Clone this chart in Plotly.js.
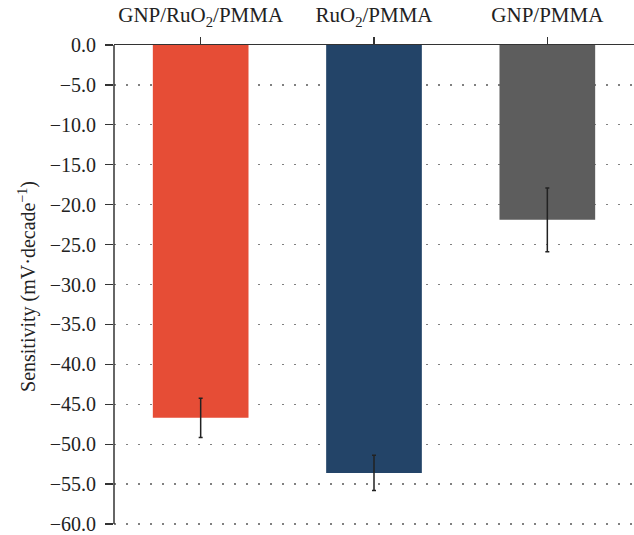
<!DOCTYPE html>
<html>
<head>
<meta charset="utf-8">
<script src="https://cdn.plot.ly/plotly-3.0.1.min.js"></script>
<style>html,body{margin:0;padding:0;background:#fff;}#chart{width:634px;height:535px;}</style>
</head>
<body>
<div id="chart"></div>
<script>
const categories = ["GNP/RuO<sub>2</sub>/PMMA", "RuO<sub>2</sub>/PMMA", "GNP/PMMA"];
const sensitivity = [-46.7, -53.6, -21.9];
const errors = [2.45, 2.2, 4.0];
const barColors = ["#E64D36", "#234468", "#5D5D5D"];
const yTickVals = [0, -5, -10, -15, -20, -25, -30, -35, -40, -45, -50, -55, -60];

const FONT = "Liberation Serif, Times New Roman, serif";

const trace = {
  type: "bar",
  x: categories,
  y: sensitivity,
  marker: {color: barColors, line: {width: 0}},
  error_y: {type: "data", array: errors, visible: true, color: "#222222", thickness: 1.5, width: 2},
  hoverinfo: "none"
};

const layout = {
  width: 634, height: 535,
  margin: {l: 114, r: 0, t: 45, b: 7},
  paper_bgcolor: "#ffffff", plot_bgcolor: "#ffffff",
  font: {family: FONT, size: 20, color: "#222222"},
  showlegend: false,
  bargap: 0.448,
  xaxis: {
    side: "top",
    range: [-0.5, 2.5],
    showline: true, linecolor: "#333333", linewidth: 1.2,
    ticks: "outside", ticklen: 7, tickwidth: 1.2, tickcolor: "#333333",
    showgrid: false, zeroline: false,
    ticklabelstandoff: 6,
    tickfont: {family: FONT, size: 21, color: "#222222"},
    fixedrange: true
  },
  yaxis: {
    range: [-60.5, 0],
    tickvals: yTickVals,
    ticktext: yTickVals.map(v => (v < 0 ? "\u2212" : "") + Math.abs(v).toFixed(1)),
    ticklabeloverflow: "allow",
    showline: false,
    ticks: "outside", ticklen: 8, tickwidth: 1.2, tickcolor: "#333333",
    showgrid: true, gridcolor: "#808080", gridwidth: 1.2, griddash: "1.5px,10.5px",
    zeroline: false,
    ticklabelstandoff: 5,
    tickfont: {family: FONT, size: 20, color: "#222222"},
    title: {text: "Sensitivity (mV\u00B7decade<sup>\u22121</sup>)", font: {family: FONT, size: 20, color: "#222222"}, standoff: 8},
    fixedrange: true
  },
  shapes: [{
    type: "line", xref: "paper", yref: "y", x0: 0, x1: 0, y0: -60, y1: 0,
    line: {color: "#333333", width: 1.5}
  }]
};

Plotly.newPlot("chart", [trace], layout, {displayModeBar: false, staticPlot: true});
</script>
</body>
</html>
